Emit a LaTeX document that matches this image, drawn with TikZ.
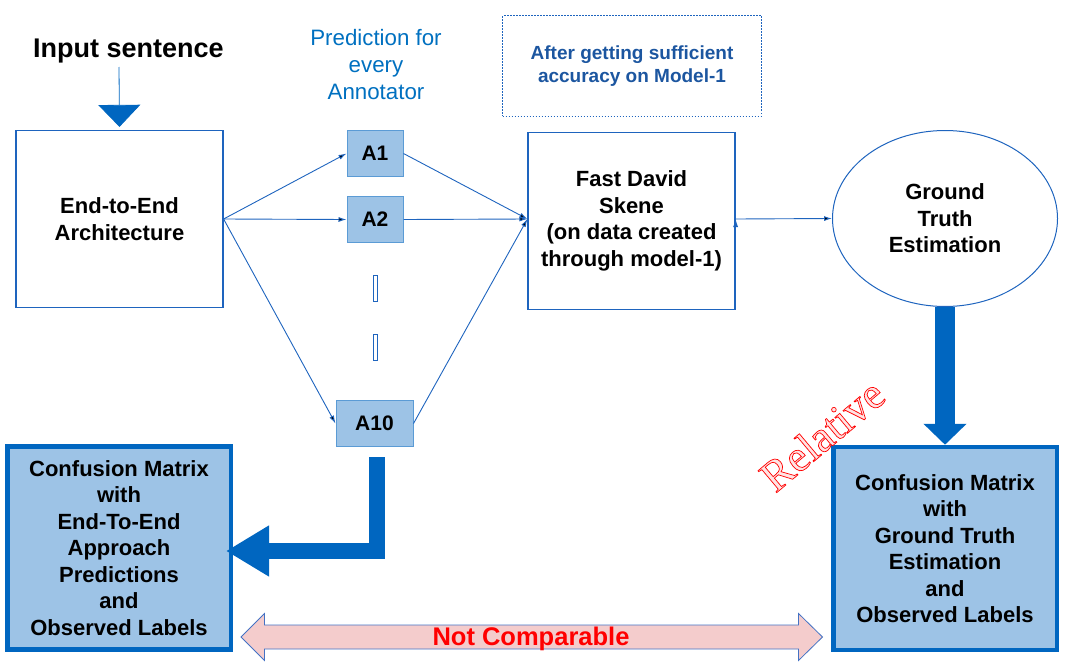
\documentclass[tikz,border=0pt]{standalone}
\usepackage{fontspec}
\setmainfont{Liberation Sans}
\newfontfamily\relserif{Liberation Serif}
\usetikzlibrary{positioning}
\usetikzlibrary{arrows.meta}
\usetikzlibrary{shapes.geometric}
\definecolor{mainblue}{RGB}{0,102,192}
\definecolor{lineblue}{RGB}{30,100,190}
\definecolor{lightfill}{RGB}{157,195,230}
\definecolor{annotedge}{RGB}{91,155,213}
\definecolor{predblue}{RGB}{0,112,192}
\definecolor{afterblue}{RGB}{28,86,160}
\definecolor{pinkfill}{RGB}{244,204,204}
\definecolor{pinkedge}{RGB}{68,114,196}
\definecolor{notred}{RGB}{255,0,0}
\definecolor{relfill}{RGB}{255,228,228}
\newcommand{\boxfont}{\bfseries\fontsize{22}{26.5}\selectfont}
% outlined text: fill with current colour, red stroke
\newcommand{\outlinetext}[1]{\textcolor{relfill}{\special{pdf:literal direct 1 0 0 RG 0.7 w 2 Tr}#1\special{pdf:literal direct 0 Tr}}}

\begin{document}
\begin{tikzpicture}[x=1pt,y=-1pt,
  outbox/.style={draw=lineblue,line width=1.2pt,minimum width=207pt,minimum height=177pt,align=center,font=\boxfont,inner sep=0pt},
  annot/.style={draw=annotedge,fill=lightfill,line width=1pt,minimum height=46pt,font=\bfseries\fontsize{21}{25}\selectfont,inner sep=0pt},
  cmbox/.style={draw=mainblue,fill=lightfill,line width=4.5pt,minimum width=223.5pt,minimum height=203pt,align=center,font=\boxfont,inner sep=0pt},
  conn/.style={draw=lineblue,line width=0.9pt,-{Latex[length=8pt,width=5pt]}},
  fat/.style={draw=mainblue,line join=miter}]
\useasboundingbox (0,0) rectangle (1075,669);

% top labels
\node[font=\bfseries\fontsize{27}{32}\selectfont,anchor=base] (input) at (128.5,58) {Input sentence};
\node[text=predblue,align=center,font=\fontsize{22.3}{27}\selectfont] (pred) at (376,65) {Prediction for\\every\\Annotator};
\node[draw=lineblue,line width=1pt,dash pattern=on 1.5pt off 1.5pt,minimum width=259pt,minimum height=100pt,
  text=afterblue,align=center,font=\bfseries\fontsize{19}{23}\selectfont] (after) at (632,66) {After getting sufficient\\accuracy on Model-1};

% main row
\node[outbox] (e2e) at (119.5,219) {End-to-End\\Architecture};
\node[annot,minimum width=56pt] (A1) at (375,153.5) {A1};
\node[annot,minimum width=56pt] (A2) at (375,219.5) {A2};
\node[draw=lineblue,line width=0.8pt,minimum width=4pt,minimum height=26pt,inner sep=0pt] (d1) at (375.6,288) {};
\node[draw=lineblue,line width=0.8pt,minimum width=4pt,minimum height=26pt,inner sep=0pt] (d2) at (375.5,347.5) {};
\node[annot,minimum width=77pt] (A10) at (374.5,423.5) {A10};
\node[outbox] (fds) at (631.5,221) {Fast David\\Skene\\(on data created\\through model-1)};
\node[ellipse,draw=lineblue,line width=1pt,minimum width=225pt,minimum height=176pt,align=center,font=\boxfont,inner sep=0pt] (gte) at (945,218.5) {Ground\\Truth\\Estimation};

% confusion matrices
\node[cmbox] (cmL) at (119,548) {Confusion Matrix\\with\\End-To-End\\Approach\\Predictions\\and\\Observed Labels};
\node[cmbox] (cmR) at (945,548.5) {Confusion Matrix\\with\\Ground Truth\\Estimation\\and\\Observed Labels};

% connectors
\coordinate (inarr) at (119,67);
\draw[draw=mainblue,line width=0.8pt,-{Triangle[width=42pt,length=22pt]}] (inarr) -- ([yshift=3pt]e2e.north);
\path[conn] (e2e.east) edge (A1.west)
  (e2e.east) edge (A2.west)
  (e2e.east) edge (A10.west)
  (A1.east) edge (fds.west |- 0,219)
  (A2.east) edge (fds.west |- 0,219)
  (A10.east) edge (fds.west |- 0,219)
  (fds.east |- 0,219) edge (gte.west);
\draw[fat,line width=20pt,-{Triangle[width=42pt,length=21pt]}] (gte.south) -- (cmR.north);
\draw[fat,line width=16pt,-{Triangle[width=48pt,length=43pt]}] ([xshift=2pt,yshift=-10pt]A10.south) |- ([xshift=-7pt,yshift=-3pt]cmL.east);

% not comparable
\draw[draw=pinkedge,fill=pinkfill,line width=0.8pt] (241,637) -- (264.5,613.5) -- (264.5,625) -- (798.5,625) -- (798.5,613.5)
  -- (822.5,637) -- (798.5,660.5) -- (798.5,649) -- (264.5,649) -- (264.5,660.5) -- cycle;
\node[text=notred,font=\bfseries\fontsize{25.5}{30}\selectfont,anchor=base] (notcmp) at (531,645) {Not Comparable};
\node[rotate=40,font=\relserif\fontsize{44}{48}\selectfont,inner sep=0pt] (rel) at (822,435) {\outlinetext{Relative}};
\end{tikzpicture}
\end{document}
